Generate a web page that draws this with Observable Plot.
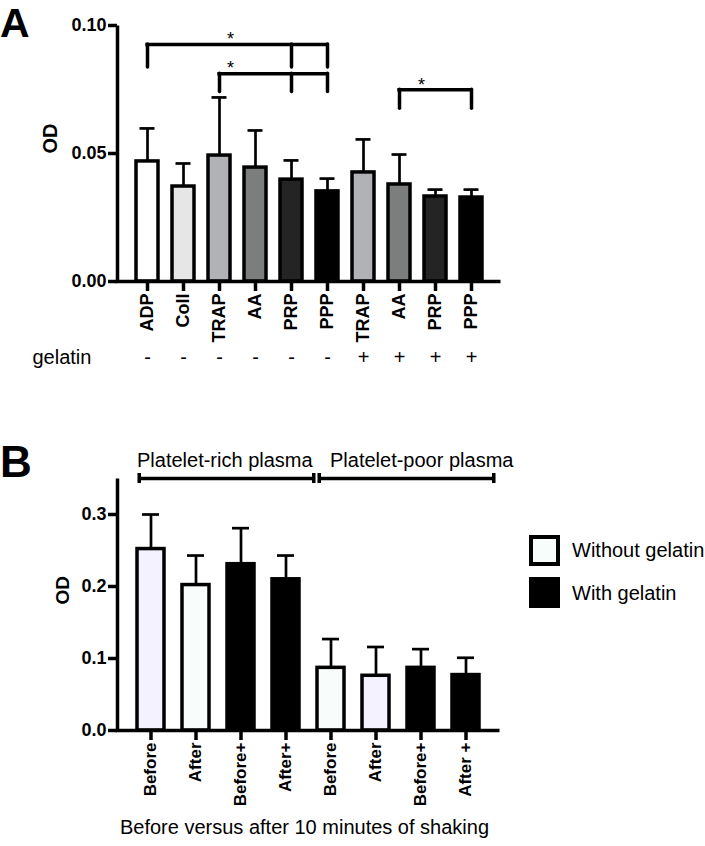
<!DOCTYPE html>
<html><head><meta charset="utf-8">
<script src="https://cdn.jsdelivr.net/npm/d3@7"></script>
<script src="https://cdn.jsdelivr.net/npm/@observablehq/plot@0.6"></script>
<style>
body{margin:0;background:#fff;}
#root{position:relative;width:705px;height:846px;font-family:"Liberation Sans",Arial,sans-serif;overflow:hidden;}
#root svg{overflow:visible;}
.panel{position:absolute;left:0;}
.letter{position:absolute;left:0;font-weight:bold;line-height:normal;}
.sw{position:absolute;left:529px;width:31px;height:31px;box-sizing:border-box;border:4px solid #000;}
.lt{position:absolute;left:572px;font-size:20px;line-height:1;white-space:nowrap;}
</style>
</head><body><div id="root"></div>
<script>
// ---------- Panel A data ----------
const agonistsA = ["ADP","Coll","TRAP","AA","PRP","PPP","TRAP","AA","PRP","PPP"];
const gelatinA  = ["-","-","-","-","-","-","+","+","+","+"];
const meanA = [0.0469,0.0371,0.0492,0.0445,0.0398,0.0352,0.0426,0.0379,0.0332,0.0328];
const sdA   = [0.0129,0.0090,0.0227,0.0145,0.0075,0.0050,0.0129,0.0117,0.0027,0.0031];
const yTicksA = [0, 0.05, 0.10];
// significance comparisons (indices into agonistsA) and bracket levels (OD)
const sigA = [
  {from: 0, to: 5, legs: [0, 4, 5], level: 0.0926, legEnd: 0.0836, starAt: 2},
  {from: 2, to: 5, legs: [2, 4, 5], level: 0.0812, legEnd: 0.0740, starAt: 2},
  {from: 7, to: 9, legs: [7, 9],    level: 0.0749, legEnd: 0.0675, starAt: 7}
];
// ---------- Panel B data ----------
const stagesB = ["Before","After","Before+","After+","Before","After","Before+","After +"];
const plasmaB = ["Platelet-rich plasma","Platelet-rich plasma","Platelet-rich plasma","Platelet-rich plasma",
                 "Platelet-poor plasma","Platelet-poor plasma","Platelet-poor plasma","Platelet-poor plasma"];
const gelB    = ["Without gelatin","Without gelatin","With gelatin","With gelatin",
                 "Without gelatin","Without gelatin","With gelatin","With gelatin"];
const meanB = [0.252,0.202,0.231,0.210,0.087,0.076,0.087,0.077];
const sdB   = [0.048,0.041,0.050,0.033,0.040,0.040,0.026,0.024];
const yTicksB = [0, 0.1, 0.2, 0.3];
const xTitleB = "Before versus after 10 minutes of shaking";
const legendB = ["Without gelatin","With gelatin"];

// ---------- styles ----------
const fillA = ["#ffffff","#e6e6e6","#b1b2b6","#7c7e7d","#242424","#000000","#b1b2b6","#7c7e7d","#242424","#000000"];
const fillB = ["#f3f2fe","#f8fcfa","#000000","#000000","#f8fcfa","#f3f2fe","#000000","#000000"];
const legendFill = ["#f8fcfa","#000000"];
const starShift = [11, 11, 22];
const groupTextShift = [-14, -1];
const FONT = "Liberation Sans, Arial, sans-serif";
const AX = 3.5;

const root = document.getElementById("root");

function frameAxes(w, h) {
  return Plot.frame({stroke: "black", strokeWidth: AX, strokeDasharray: `0 ${w + h} ${w + h} 0`});
}

// ---------- Panel A ----------
{
  const width = 705, height = 380, mL = 117, mR = 205, mT = 25, mB = 99;
  const ids = agonistsA.map((a, i) => a + gelatinA[i]);
  const labelOf = new Map(ids.map((id, i) => [id, agonistsA[i]]));
  const signOf = new Map(ids.map((id, i) => [id, gelatinA[i]]));
  const bars = ids.map((id, i) => ({id, mean: meanA[i], sd: sdA[i], fill: fillA[i]}));
  const legs = sigA.flatMap(s => s.legs.map(l => ({id: ids[l], top: s.level, bottom: s.legEnd})));
  const pI = 0.4, pO = 0.39;
  const step = (width - mL - mR) / (ids.length - pI + 2 * pO);
  const half = step * (1 - pI) / 2;
  const plot = Plot.plot({
    width, height, marginLeft: mL, marginRight: mR, marginTop: mT, marginBottom: mB,
    style: {fontFamily: FONT, fontSize: "18px", fontWeight: "bold", color: "black", background: "transparent", overflow: "visible"},
    x: {domain: ids, paddingInner: pI, paddingOuter: pO, axis: null},
    y: {domain: [0, 0.10], axis: null},
    color: {type: "identity"},
    marks: [
      Plot.barY(bars, {x: "id", y: "mean", fill: "fill", stroke: "black", strokeWidth: AX}),
      Plot.ruleX(bars, {x: "id", y1: "mean", y2: d => d.mean + d.sd, stroke: "black", strokeWidth: 2.7}),
      Plot.tickY(bars, {x: "id", y: d => d.mean + d.sd, stroke: "black", strokeWidth: 2.7, insetLeft: 3.5, insetRight: 3.5}),
      Plot.ruleY(sigA, {x1: d => ids[d.from], x2: d => ids[d.to], y: "level", stroke: "black", strokeWidth: AX, strokeLinecap: "square", insetLeft: half, insetRight: half}),
      Plot.ruleX(legs, {x: "id", y1: "top", y2: "bottom", stroke: "black", strokeWidth: AX, strokeLinecap: "round"}),
      ...sigA.map((s, i) => Plot.text([s], {x: d => ids[d.starAt], y: "level", text: () => "*", dx: starShift[i], dy: -5, fontSize: 18, fontWeight: "normal"})),
      frameAxes(width - mL - mR, height - mT - mB),
      Plot.axisY(yTicksA, {tickFormat: d => d.toFixed(2), tickSize: 9, tickPadding: 2, strokeWidth: AX, fontSize: 18, fontWeight: "bold", label: null}),
      Plot.axisX({tickRotate: -90, tickSize: 10, tickPadding: 2, strokeWidth: AX, tickFormat: d => labelOf.get(d), fontSize: 18, fontWeight: "bold", label: null}),
      Plot.axisX({tickSize: 0, tickPadding: 68, tickFormat: d => signOf.get(d), fontSize: 20, fontWeight: "normal", label: null}),
      Plot.text(["gelatin"], {text: d => d, frameAnchor: "bottom-left", dx: -85, dy: 68, lineAnchor: "top", textAnchor: "start", fontSize: 20, fontWeight: "normal"}),
      Plot.text(["OD"], {text: d => d, frameAnchor: "left", dx: -67, rotate: -90, fontSize: 20, fontWeight: "bold"})
    ]
  });
  plot.classList.add("panel");
  plot.style.top = "0px";
  root.appendChild(plot);
}

// ---------- Panel B ----------
{
  const width = 705, height = 406, mL = 117, mR = 206, mT = 38, mB = 116;
  const ids = stagesB.map((s, i) => s + "#" + i);
  const labelOf = new Map(ids.map((id, i) => [id, stagesB[i]]));
  const bars = ids.map((id, i) => ({id, mean: meanB[i], sd: sdB[i], fill: fillB[i]}));
  const groupNames = Array.from(new Set(plasmaB));
  const groups = groupNames.map(g => ({
    name: g,
    first: ids[plasmaB.indexOf(g)],
    last: ids[plasmaB.lastIndexOf(g)]
  }));
  const yTop = 0.35;
  const pI = 0.4, pO = 0.36;
  const step = (width - mL - mR) / (ids.length - pI + 2 * pO);
  const half = step * (1 - pI) / 2;
  const padL = 2, padR = -14;
  const plot = Plot.plot({
    width, height, marginLeft: mL, marginRight: mR, marginTop: mT, marginBottom: mB,
    style: {fontFamily: FONT, fontSize: "18px", fontWeight: "bold", color: "black", background: "transparent", overflow: "visible"},
    x: {domain: ids, paddingInner: pI, paddingOuter: pO, axis: null},
    y: {domain: [0, yTop], axis: null},
    color: {type: "identity"},
    marks: [
      Plot.barY(bars, {x: "id", y: "mean", fill: "fill", stroke: "black", strokeWidth: AX}),
      Plot.ruleX(bars, {x: "id", y1: "mean", y2: d => d.mean + d.sd, stroke: "black", strokeWidth: 2.7}),
      Plot.tickY(bars, {x: "id", y: d => d.mean + d.sd, stroke: "black", strokeWidth: 2.7, insetLeft: 5, insetRight: 5}),
      Plot.ruleY(groups, {x1: "first", x2: "last", y: () => yTop, stroke: "black", strokeWidth: AX, insetLeft: padL, insetRight: padR}),
      Plot.ruleX(groups, {x: "first", y1: () => yTop, y2: () => yTop, insetTop: -5, insetBottom: -5, dx: -half + padL, stroke: "black", strokeWidth: AX}),
      Plot.ruleX(groups, {x: "last", y1: () => yTop, y2: () => yTop, insetTop: -5, insetBottom: -5, dx: half - padR, stroke: "black", strokeWidth: AX}),
      ...groups.map((g, i) => Plot.text([g], {x: "first", y: () => yTop, text: "name", textAnchor: "start", lineAnchor: "bottom", dx: groupTextShift[i], dy: -12, fontSize: 20, fontWeight: "normal"})),
      frameAxes(width - mL - mR, height - mT - mB),
      Plot.axisY(yTicksB, {tickFormat: d => d.toFixed(1), tickSize: 9, tickPadding: 2, strokeWidth: AX, fontSize: 18, fontWeight: "bold", label: null}),
      Plot.axisX({tickRotate: -90, tickSize: 10, tickPadding: 2, strokeWidth: AX, tickFormat: d => labelOf.get(d), fontSize: 17, fontWeight: "bold", label: null}),
      Plot.text([xTitleB], {text: d => d, frameAnchor: "bottom", dx: -4, dy: 103, fontSize: 20, fontWeight: "normal"}),
      Plot.text(["OD"], {text: d => d, frameAnchor: "left", dx: -55, rotate: -90, fontSize: 19, fontWeight: "bold"})
    ]
  });
  plot.classList.add("panel");
  plot.style.top = "440px";
  root.appendChild(plot);
}

// ---------- panel letters & legend ----------
function addDiv(cls, text, css) {
  const d = document.createElement("div");
  d.className = cls;
  if (text != null) d.textContent = text;
  Object.assign(d.style, css);
  root.appendChild(d);
  return d;
}
addDiv("letter", "A", {top: "0px", fontSize: "41px"});
addDiv("letter", "B", {top: "437px", fontSize: "44px"});
legendB.forEach((name, i) => {
  addDiv("sw", null, {top: (535 + i * 42) + "px", background: legendFill[i]});
  addDiv("lt", name, {top: (540 + i * 43) + "px"});
});
</script>
</body></html>
